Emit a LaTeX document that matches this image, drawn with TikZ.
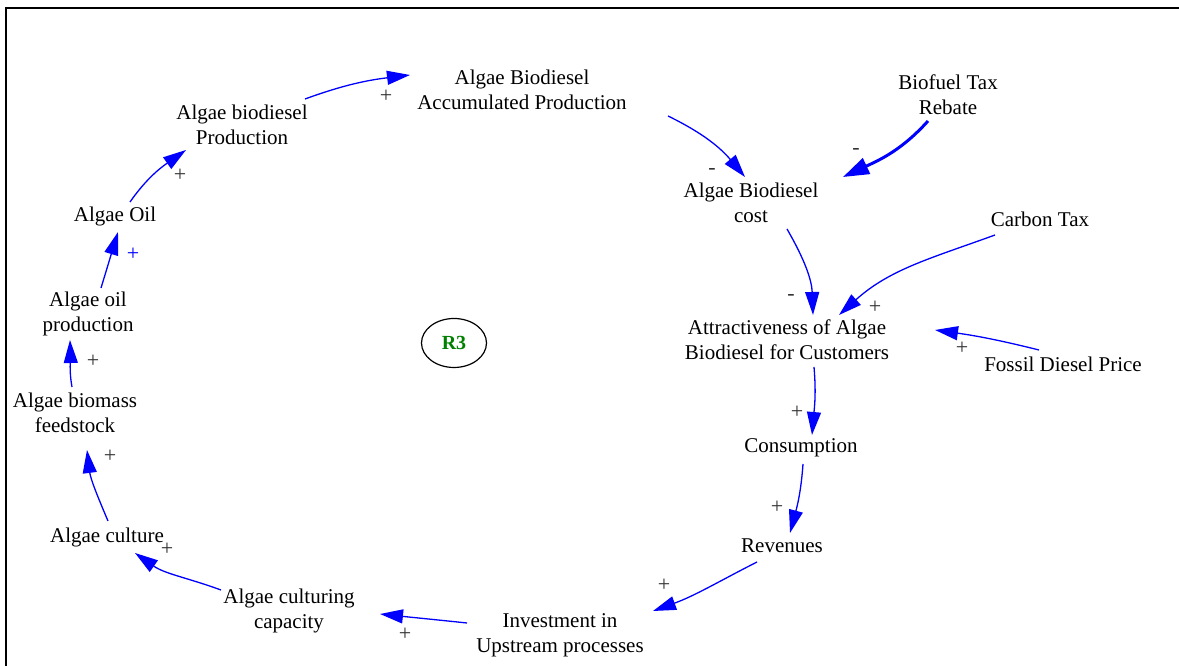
\documentclass[tikz,border=0pt]{standalone}
\usepackage{fontspec}
\setmainfont{Liberation Serif}
\usetikzlibrary{arrows.meta,shapes.geometric}
\definecolor{linkblue}{RGB}{0,0,255}
\definecolor{loopgreen}{RGB}{0,128,0}
\definecolor{signgray}{RGB}{51,51,51}
\begin{document}
\begin{tikzpicture}[x=1pt,y=1pt,
  var/.style={align=center, font=\fontsize{21}{25}\selectfont, inner sep=3pt},
  link/.style={draw=linkblue, line width=1.3pt, -{Triangle[length=23pt,width=14pt]}},
  heavylink/.style={draw=linkblue, line width=3pt, -{Triangle[length=26pt,width=17pt]}},
  pol/.style={font=\fontsize{22}{22}\selectfont, text=signgray, inner sep=0pt},
  loopmark/.style={draw, ellipse, line width=1.2pt, minimum width=65pt, minimum height=49pt,
    font=\fontsize{20}{20}\selectfont\bfseries, text=loopgreen}
]
\useasboundingbox (0,0) rectangle (1179,666);
% frame
\draw[line width=1.5pt] (6,0) -- (6,658) -- (1179,658);

% variables
\node[var] (acc) at (522,576) {Algae Biodiesel\\Accumulated Production};
\node[var] (prod) at (242,541) {Algae biodiesel\\Production};
\node[var] (oil) at (115,450) {Algae Oil};
\node[var] (oilprod) at (88,352) {Algae oil\\production};
\node[var] (biomass) at (75,253) {Algae biomass\\feedstock};
\node[var] (culture) at (107,129) {Algae culture};
\node[var] (capacity) at (289,55) {Algae culturing\\capacity};
\node[var] (invest) at (560,31) {Investment in\\Upstream processes};
\node[var] (revenues) at (782,120) {Revenues};
\node[var] (consumption) at (801,218) {Consumption};
\node[var] (attract) at (787,326) {Attractiveness of Algae\\Biodiesel for Customers};
\node[var] (cost) at (751,463) {Algae Biodiesel\\cost};
\node[var] (rebate) at (948,571) {Biofuel Tax\\Rebate};
\node[var] (carbon) at (1040,447) {Carbon Tax};
\node[var] (fossil) at (1063,302) {Fossil Diesel Price};
\node[loopmark] (r3) at (454,323) {R3};

% causal links
\draw[link] ([shift={(63,26)}]prod.center) to[out=20,in=187] ([shift={(-112,15)}]acc.center);
\draw[link] ([shift={(146,-26)}]acc.center) to[out=-26,in=130] ([shift={(-6,26)}]cost.center);
\draw[heavylink] ([shift={(-20,-26)}]rebate.center) to[out=228,in=25] ([shift={(92,26)}]cost.center);
\draw[link] ([shift={(36,-26)}]cost.center) to[out=-60,in=92] ([shift={(26,25)}]attract.center);
\draw[link] ([shift={(-45,-16)}]carbon.center) to[out=200,in=42] ([shift={(52,25)}]attract.center);
\draw[link] ([shift={(-24,14)}]fossil.center) to[out=166,in=-8] ([shift={(148,10)}]attract.center);
\draw[link] ([shift={(27,-27)}]attract.center) to[out=-85,in=85] ([shift={(11,13)}]consumption.center);
\draw[link] ([shift={(2,-16)}]consumption.center) to[out=-94,in=75] ([shift={(8,13)}]revenues.center);
\draw[link] ([shift={(-25,-16)}]revenues.center) to[out=207,in=20] ([shift={(93,24)}]invest.center);
\draw[link] ([shift={(-93,12)}]invest.center) to[out=174,in=-6] ([shift={(91,-3)}]capacity.center);
\draw[link] ([shift={(-68,21)}]capacity.center) to[out=160,in=-35] ([shift={(28,-16)}]culture.center);
\draw[link] ([shift={(1,16)}]culture.center) to[out=113,in=-83] ([shift={(12,-37)}]biomass.center);
\draw[link] ([shift={(-3,26)}]biomass.center) to[out=100,in=-88] ([shift={(-18,-26)}]oilprod.center);
\draw[link] ([shift={(13,26)}]oilprod.center) to[out=73,in=253] ([shift={(3,-16)}]oil.center);
\draw[link] ([shift={(15,14)}]oil.center) to[out=55,in=215] ([shift={(-56,-25)}]prod.center);

% link polarities
\node[pol] (s1) at (386,570) {+};
\node[pol] (s2) at (712,494) {-};
\node[pol] (s3) at (856,514) {-};
\node[pol] (s4) at (791,368) {-};
\node[pol] (s5) at (875,359) {+};
\node[pol] (s6) at (962,318) {+};
\node[pol] (s7) at (797,254) {+};
\node[pol] (s8) at (777,159) {+};
\node[pol] (s9) at (664,81) {+};
\node[pol] (s10) at (405,32) {+};
\node[pol] (s11) at (167,117) {+};
\node[pol] (s12) at (110,210) {+};
\node[pol] (s13) at (93,305) {+};
\node[pol, text=linkblue] (s14) at (133,412) {+};
\node[pol] (s15) at (180,491) {+};
\end{tikzpicture}
\end{document}
